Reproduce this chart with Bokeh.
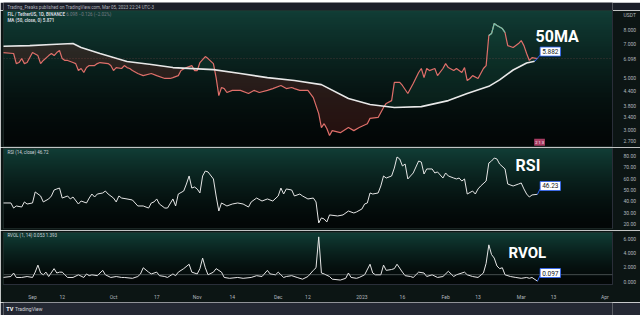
import numpy as np
import pandas as pd
from bokeh.plotting import figure
from bokeh.models import Range1d, FixedTicker, NumeralTickFormatter, Label, Span
from bokeh.layouts import column
from bokeh.embed import file_html
from bokeh.resources import INLINE

BASE_DATE = "2022-09-01"   # day 0

price_day = [-11, -7, -6, -5, -4, -3, -2, 0, 2, 3, 4, 6, 7, 8, 9, 10, 11, 12, 13, 15, 16, 17, 18, 19, 20, 21, 23, 24, 25, 28,
             29, 30, 31, 33, 34, 35, 36, 37, 39, 41, 44, 46, 49, 51, 52, 54, 55, 57, 59, 60, 61, 62, 64, 65, 67, 68, 69, 70, 71, 72,
             74, 77, 80, 82, 84, 87, 89, 92, 94, 96, 97, 99, 102, 104, 106, 107, 108, 109, 110, 111, 114, 117, 119, 121, 124, 125, 128, 130, 131, 133,
             134, 136, 137, 139, 141, 143, 144, 145, 146, 147, 149, 150, 152, 153, 154, 156, 157, 159, 160, 161, 162, 163, 165, 166, 167, 168, 169, 170, 171, 172,
             174, 175, 176, 178, 180, 181, 182, 183, 184, 185, 187]
price_val = [6.41, 6.35, 5.75, 5.81, 6.04, 5.75, 5.81, 6.41, 6.22, 5.75, 5.93, 6.22, 6.35, 6.22, 6.41, 6.54, 6.04, 5.93, 5.93, 5.81, 5.75, 5.37, 5.48, 5.27, 5.53, 5.64, 5.64, 5.75, 5.81, 5.75,
             5.64, 5.37, 5.53, 5.48, 5.64, 5.53, 5.48, 5.37, 5.22, 5.11, 5.22, 5.11, 4.97, 4.97, 5.01, 5.11, 5.37, 5.53, 5.64, 5.37, 5.37, 5.81, 6.16, 6.04, 5.75, 5.01, 4.20, 4.55, 4.50, 4.33,
             4.42, 4.42, 4.29, 4.42, 4.33, 4.42, 4.50, 4.64, 4.50, 4.55, 4.50, 4.42, 4.42, 4.12, 3.52, 3.07, 3.19, 3.04, 2.84, 2.98, 2.92, 3.07, 2.98, 3.07, 3.19, 3.36, 3.39, 3.74, 3.89, 4.00,
             4.78, 4.78, 4.64, 4.29, 4.73, 5.27, 5.48, 5.01, 5.48, 5.37, 5.48, 5.11, 5.48, 5.75, 5.53, 5.37, 5.48, 5.27, 5.53, 4.87, 4.97, 5.11, 4.97, 5.22, 5.48, 5.64, 7.57, 7.72, 8.52, 8.35,
             8.11, 7.80, 6.86, 6.73, 7.00, 7.21, 6.86, 6.35, 5.93, 6.10, 6.04]

ma_day = [-11, -1, 7, 15, 18, 25, 35, 44, 52, 67, 77, 87, 97, 107, 117, 125, 134, 144, 154, 161, 169, 173, 178, 183, 186]
ma_val = [6.82, 6.86, 6.93, 7.00, 6.73, 6.35, 5.87, 5.70, 5.53, 5.42, 5.22, 5.01, 4.87, 4.68, 4.08, 3.85, 3.74, 3.77, 4.00, 4.29, 4.60, 4.90, 5.40, 5.78, 5.882]

rsi_day = [-11, -8, -7, -6, -4, -3, -2, 0, 1, 3, 4, 6, 7, 8, 9, 10, 11, 13, 14, 15, 17, 18, 20, 21, 22, 23, 24, 26, 27, 28,
           30, 31, 32, 33, 35, 37, 39, 41, 43, 44, 45, 46, 47, 49, 50, 52, 53, 54, 56, 57, 58, 59, 60, 61, 62, 63, 64, 65, 67, 68,
           69, 70, 72, 74, 76, 78, 80, 81, 83, 85, 87, 89, 91, 92, 93, 94, 96, 97, 99, 100, 102, 104, 105, 106, 107, 108, 109, 110, 113, 115,
           117, 119, 120, 122, 123, 124, 125, 126, 128, 129, 130, 131, 133, 134, 135, 136, 137, 138, 139, 141, 143, 144, 145, 146, 148, 149, 150, 152, 153, 154,
           156, 157, 158, 159, 160, 161, 163, 164, 165, 166, 168, 169, 170, 171, 172, 173, 175, 176, 178, 180, 181, 182, 183, 184, 185, 187]
rsi_val = [38.7, 38.7, 34.3, 36.1, 35.2, 39.6, 37.8, 38.7, 48.3, 44.8, 39.6, 42.2, 44.8, 50.0, 50.9, 51.7, 43.0, 44.8, 42.2, 43.9, 37.8, 40.4, 38.7, 43.0, 46.5, 43.9, 46.5, 47.4, 49.1, 46.5,
           43.0, 39.6, 44.8, 43.0, 42.2, 41.3, 36.1, 36.1, 34.3, 38.7, 39.6, 42.2, 37.8, 34.3, 34.3, 42.2, 36.1, 46.5, 49.1, 55.2, 62.2, 51.7, 52.6, 50.9, 47.4, 62.2, 66.5, 65.7, 59.6, 44.8,
           31.7, 38.7, 36.1, 37.8, 38.7, 37.8, 35.2, 39.6, 43.0, 40.4, 42.2, 40.4, 44.8, 51.7, 46.5, 50.9, 50.0, 44.8, 46.5, 44.8, 42.2, 43.0, 39.6, 21.3, 25.7, 24.8, 22.2, 28.3, 27.4, 28.3,
           31.7, 30.0, 30.9, 33.5, 37.8, 38.7, 47.4, 46.5, 47.4, 53.5, 62.2, 60.4, 62.2, 69.1, 78.7, 77.0, 70.9, 72.6, 59.6, 64.8, 75.2, 74.3, 63.9, 68.3, 68.3, 64.8, 65.7, 60.4, 64.8, 62.2,
           60.4, 59.6, 60.4, 57.8, 59.6, 46.5, 49.1, 46.5, 50.9, 53.5, 57.8, 73.5, 75.2, 77.8, 77.0, 72.6, 68.3, 55.2, 53.5, 55.2, 56.1, 50.9, 46.5, 43.9, 45.7, 46.23]

rvol_day = [-11, -8, -7, -6, -4, -2, 0, 1, 2, 3, 4, 5, 6, 8, 9, 10, 11, 12, 13, 15, 17, 19, 20, 21, 22, 24, 26, 27, 29, 31,
            33, 34, 37, 39, 40, 41, 43, 44, 46, 47, 49, 50, 52, 53, 54, 56, 58, 59, 61, 62, 63, 64, 65, 67, 68, 70, 71, 73, 76, 78,
            81, 83, 85, 87, 88, 90, 91, 93, 94, 96, 98, 100, 102, 104, 105, 106, 107, 108, 110, 111, 114, 116, 117, 118, 120, 121, 123, 125, 126, 127,
            129, 130, 131, 133, 134, 135, 137, 138, 140, 141, 143, 145, 146, 148, 150, 152, 154, 156, 157, 160, 161, 163, 165, 167, 168, 169, 170, 171, 172, 173,
            174, 175, 177, 179, 181, 183, 184, 185, 187]
rvol_val = [0.61, 0.74, 1.23, 0.61, 0.61, 0.74, 0.61, 1.35, 2.33, 1.23, 0.98, 1.35, 0.74, 1.84, 1.23, 1.35, 1.35, 0.98, 0.61, 0.61, 0.98, 0.61, 1.10, 0.86, 0.98, 0.86, 1.60, 0.98, 0.61, 0.74,
            0.61, 0.61, 0.49, 0.74, 1.10, 1.96, 1.35, 1.10, 1.35, 0.86, 0.74, 0.61, 1.10, 0.86, 1.35, 1.84, 2.45, 1.35, 1.10, 1.84, 3.31, 1.96, 0.98, 1.35, 1.84, 1.35, 0.61, 0.49, 0.61, 0.49,
            0.61, 0.86, 0.74, 1.60, 1.10, 0.98, 1.35, 0.61, 0.74, 0.86, 0.61, 0.37, 0.74, 1.60, 1.96, 6.26, 1.23, 1.10, 0.74, 0.37, 0.25, 0.49, 1.23, 0.61, 0.49, 0.61, 0.98, 2.45, 1.23, 0.98,
            0.98, 2.33, 1.60, 1.72, 1.84, 2.45, 1.35, 0.86, 0.74, 0.61, 1.35, 1.23, 0.74, 0.98, 0.61, 0.74, 1.47, 0.74, 0.98, 1.35, 0.98, 0.74, 0.61, 1.23, 2.58, 5.15, 3.80, 3.31, 2.21, 1.84,
            1.96, 0.98, 0.74, 0.61, 0.49, 0.61, 0.49, 0.61, 0.097]

tick_dates = ["2022-09-01", "2022-09-12", "2022-10-01", "2022-10-17", "2022-11-01", "2022-11-14", "2022-12-01", "2022-12-12",
              "2023-01-01", "2023-01-16", "2023-02-01", "2023-02-13", "2023-03-01", "2023-03-13", "2023-04-01"]
tick_labels = ["Sep", "12", "Oct", "17", "Nov", "14", "Dec", "12", "2023", "16", "Feb", "13", "Mar", "13", "Apr"]

price_ticks = [2.7, 3.0, 3.4, 3.8, 4.4, 5.0, 7.0, 8.0]
price_unit_tick = 9.3           # where the "USDT" caption sits on the scale
last_close = 6.098
rsi_ticks = [20, 30, 40, 50, 60, 70, 80]
rvol_ticks = [0, 2, 4, 6]
rvol_level = 1.0

# ---------------------------------------------------------------------------
base = pd.Timestamp(BASE_DATE)
tick_pos = [float((pd.Timestamp(d) - base).days) for d in tick_dates]

XR = Range1d(-10.74, 214.8)
BORDER = "#0c1514"
NAVY = "#1c1f29"
AXIS_TXT = "#b2b5be"
FONT = "Roboto"


def gradient(p, yr):
    n = 80
    img = np.empty((n, 1), dtype=np.uint32)
    v = img.view(dtype=np.uint8).reshape((n, 1, 4))
    t = np.linspace(0.0, 1.0, n) ** 1.5
    top = (17, 62, 54)
    bot = (3, 7, 7)
    for i in range(3):
        v[:, 0, i] = (bot[i] + (top[i] - bot[i]) * t).astype(np.uint8)
    v[:, 0, 3] = 255
    p.image_rgba(image=[img], x=XR.start, y=yr.start, dw=XR.end - XR.start, dh=yr.end - yr.start, level="image")


def make_fig(h, yr, top, bottom, log=False, xaxis=False):
    kw = dict(width=640, height=h, x_range=XR, y_range=yr, output_backend="svg", toolbar_location=None,
              title=None, y_axis_location="right", min_border_left=3, min_border_right=28, min_border_top=top,
              min_border_bottom=bottom, background_fill_color="#050a09", border_fill_color=BORDER,
              outline_line_color="#22302d", outline_line_width=1)
    if log:
        kw["y_axis_type"] = "log"
    if not xaxis:
        kw["x_axis_location"] = None
    p = figure(**kw)
    p.grid.visible = False
    gradient(p, yr)
    ax = p.yaxis[0]
    ax.axis_line_color = "#2a2e39"
    ax.major_tick_line_color = None
    ax.minor_tick_line_color = None
    ax.major_label_text_color = AXIS_TXT
    ax.major_label_text_font_size = "5px"
    ax.major_label_text_font = FONT
    ax.major_label_standoff = 5
    return p


def lab(p, x, y, text, size="4.5px", color="#d1d4dc", bold=False, **kw):
    p.add_layout(Label(x=x, y=y, text=text, text_font=FONT, text_font_size=size, text_color=color,
                       text_font_style="bold" if bold else "normal", text_baseline="middle", **kw))


def strip(h, color):
    s = figure(width=640, height=h, x_range=Range1d(0, 640), y_range=Range1d(0, h), output_backend="svg",
               toolbar_location=None, title=None, x_axis_location=None, y_axis_location=None, min_border=0,
               background_fill_color=color, border_fill_color=color, outline_line_color=None)
    s.grid.visible = False
    return s


# ---------------- top strip ----------------
s_top = strip(10, NAVY)
lab(s_top, 4, 5, "Trading_Freaks published on TradingView.com, Mar 05, 2023 22:24 UTC-3", color="#b2b5be")

# ---------------- price panel ----------------
p1 = make_fig(137, Range1d(2.55, 9.68), 0, 1, log=True)
p1.yaxis.ticker = FixedTicker(ticks=price_ticks + [price_val[-1], price_unit_tick])
p1.yaxis.formatter = NumeralTickFormatter(format="0.000")
p1.yaxis.major_label_overrides = {price_unit_tick: "USDT", price_val[-1]: f"{last_close:.3f}"}

pd_arr = np.array(price_day, dtype=float)
pv = np.array(price_val)
ma_i = np.interp(pd_arr, ma_day, ma_val)
p1.varea(x=pd_arr, y1=pv, y2=np.maximum(pv, ma_i), fill_color="#8a2d28", fill_alpha=0.25)
p1.varea(x=pd_arr, y1=ma_i, y2=np.maximum(pv, ma_i), fill_color="#1f7a5c", fill_alpha=0.15)
p1.add_layout(Span(location=price_val[-1], dimension="width", line_color="#e57373", line_alpha=0.35,
                   line_dash="1 2", line_width=0.8))
p1.line(pd_arr, pv, line_color="#df6f6a", line_width=1.2)
hi = np.where(pv >= 7.3, pv, np.nan)
p1.line(pd_arr, hi, line_color="#6cc3aa", line_width=1.2)
p1.line(ma_day, ma_val, line_color="#e8e8e8", line_width=1.6)
p1.segment(x0=[ma_day[-1]], y0=[ma_val[-1]], x1=[188.0], y1=[6.25], line_color="#2962ff", line_width=1)

lab(p1, -9.3, 9.30, "FIL / TetherUS, 1D, BINANCE", bold=True)
lab(p1, 12.5, 9.30, "6.098  \u22120.126 (\u22122.02%)", color="#787b86")
lab(p1, -9.3, 8.77, "MA (50, close, 0)  5.871", bold=True)
lab(p1, 186.3, 7.50, "50MA", size="16px", color="#ffffff", bold=True)
lab(p1, 188.0, 6.47, "5.882", size="6.5px", color="#131722", background_fill_color="#ffffff",
    border_line_color="#2962ff", border_line_width=0.8, padding=2)
lab(p1, 185.8, 2.66, "2 1 3", size="4px", color="#ffffff", background_fill_color="#a83d63", padding=1)

# ---------------- RSI panel ----------------
p2 = make_fig(83, Range1d(16.5, 86.1), 1, 2)
p2.yaxis.ticker = FixedTicker(ticks=rsi_ticks)
p2.yaxis.formatter = NumeralTickFormatter(format="0.00")
p2.line(rsi_day, rsi_val, line_color="#e6e6e6", line_width=1)
p2.segment(x0=[rsi_day[-1]], y0=[rsi_val[-1]], x1=[188.0], y1=[51.0], line_color="#2962ff", line_width=1)
lab(p2, -9.3, 83.0, "RSI (14, close)  46.72")
lab(p2, 178.9, 71.7, "RSI", size="16px", color="#ffffff", bold=True)
lab(p2, 188.0, 53.5, "46.23", size="6.5px", color="#131722", background_fill_color="#ffffff",
    border_line_color="#2962ff", border_line_width=0.8, padding=2)

# ---------------- RVOL panel ----------------
p3 = make_fig(72, Range1d(-0.37, 6.87), 2, 11, xaxis=True)
p3.yaxis.ticker = FixedTicker(ticks=rvol_ticks)
p3.yaxis.formatter = NumeralTickFormatter(format="0.000")
p3.add_layout(Span(location=rvol_level, dimension="width", line_color="#9aa0a6", line_alpha=0.55, line_width=0.8))
p3.line(rvol_day, rvol_val, line_color="#e6e6e6", line_width=1)
p3.segment(x0=[rvol_day[-1]], y0=[rvol_val[-1]], x1=[188.0], y1=[0.9], line_color="#2962ff", line_width=1)
lab(p3, -9.3, 6.5, "RVOL (1, 14)  0.053  1.393")
lab(p3, 176.3, 3.99, "RVOL", size="15px", color="#ffffff", bold=True)
lab(p3, 188.0, 1.23, "0.097", size="6.5px", color="#131722", background_fill_color="#ffffff",
    border_line_color="#2962ff", border_line_width=0.8, padding=2)

xa = p3.xaxis[0]
xa.ticker = FixedTicker(ticks=tick_pos)
xa.major_label_overrides = {tp: tl for tp, tl in zip(tick_pos, tick_labels)}
xa.axis_line_color = "#2a2e39"
xa.major_tick_line_color = None
xa.minor_tick_line_color = None
xa.major_label_text_color = AXIS_TXT
xa.major_label_text_font_size = "5px"
xa.major_label_text_font = FONT
xa.major_label_standoff = 3

# ---------------- bottom strip ----------------
s_bot = strip(13, "#242833")
lab(s_bot, 3, 6.5, "TV", size="5.5px", color="#ffffff", bold=True)
lab(s_bot, 12, 6.5, "TradingView", size="5px", color="#d1d4dc")

layout = column(s_top, p1, p2, p3, s_bot, spacing=0)
open("out.html", "w").write(file_html(layout, INLINE))
